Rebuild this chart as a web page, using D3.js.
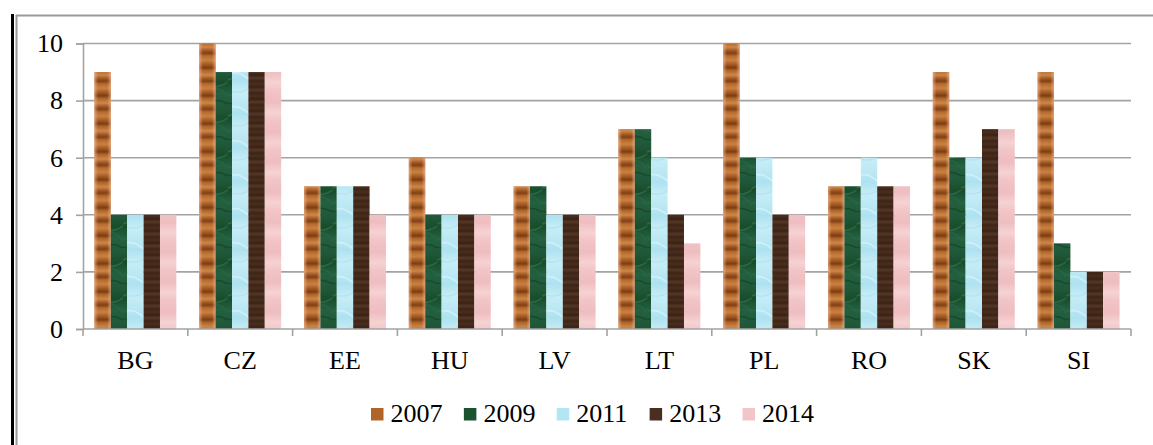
<!DOCTYPE html>
<html>
<head>
<meta charset="utf-8">
<script src="https://cdn.jsdelivr.net/npm/d3@7"></script>
<style>
  html, body { margin: 0; padding: 0; background: #ffffff; }
  svg { display: block; }
</style>
</head>
<body>
<svg id="chart" width="1153" height="445"></svg>
<script>
// ---- data ----
const categories = ["BG", "CZ", "EE", "HU", "LV", "LT", "PL", "RO", "SK", "SI"];
const years = ["2007", "2009", "2011", "2013", "2014"];
const v2007 = [9, 10, 5, 6, 5, 7, 10, 5, 9, 9];
const v2009 = [4, 9, 5, 4, 5, 7, 6, 5, 6, 3];
const v2011 = [4, 9, 5, 4, 4, 6, 6, 6, 6, 2];
const v2013 = [4, 9, 5, 4, 4, 4, 4, 5, 7, 2];
const v2014 = [4, 9, 4, 4, 4, 3, 4, 5, 7, 2];
const yTicks = [0, 2, 4, 6, 8, 10];

const series = [v2007, v2009, v2011, v2013, v2014];

// ---- layout ----
const svg = d3.select("#chart");
const W = 1153, H = 445;
const plot = { left: 83, right: 1131, top: 43.5, bottom: 329 };
const gridColor = "#a3a3a3";
const FONT = "'Liberation Serif', 'Times New Roman', serif";

// ---- textures ----
const defs = svg.append("defs");

function vGradient(id, stops) {
  const g = defs.append("linearGradient").attr("id", id)
    .attr("x1", 0).attr("x2", 0).attr("y1", 0).attr("y2", 1);
  stops.forEach(s => g.append("stop").attr("offset", s[0]).attr("stop-color", s[1]));
}
function bandPattern(id, h, gradId, extra) {
  const p = defs.append("pattern").attr("id", id)
    .attr("patternUnits", "userSpaceOnUse").attr("width", 40).attr("height", h);
  p.append("rect").attr("width", 40).attr("height", h).attr("fill", `url(#${gradId})`);
  (extra || []).forEach(e => p.append("path").attr("d", e.d).attr("fill", "none")
    .attr("stroke", e.c).attr("stroke-width", e.sw).attr("opacity", e.o));
}
vGradient("g2007", [[0, "#b66a2e"], [0.15, "#c98043"], [0.3, "#a55a22"], [0.42, "#7a3e14"],
  [0.52, "#b06428"], [0.68, "#cc8749"], [0.82, "#9c5220"], [0.9, "#7e4216"], [1, "#b66a2e"]]);
bandPattern("p2007", 28, "g2007");

vGradient("g2009", [[0, "#20593a"], [0.3, "#184d2c"], [0.6, "#236040"], [1, "#20593a"]]);
bandPattern("p2009", 36, "g2009", [
  { d: "M0 8 Q10 3 18 11 T40 10", c: "#3f7f58", sw: 1.4, o: 0.55 },
  { d: "M0 22 Q12 28 22 20 T40 25", c: "#336f4b", sw: 1.2, o: 0.5 },
  { d: "M0 31 Q10 34 20 30 T40 32", c: "#10391e", sw: 1.6, o: 0.5 }
]);

vGradient("g2011", [[0, "#bde9f4"], [0.35, "#aee2f0"], [0.7, "#c6edf6"], [1, "#bde9f4"]]);
bandPattern("p2011", 34, "g2011", [
  { d: "M0 6 Q10 2 18 9 T40 7", c: "#e0f6fb", sw: 1.8, o: 0.6 },
  { d: "M0 22 Q12 27 22 20 T40 23", c: "#99d8ea", sw: 1.2, o: 0.45 }
]);

vGradient("g2013", [[0, "#4a2e1e"], [0.25, "#3a2214"], [0.5, "#553828"], [0.75, "#3d2416"], [1, "#4a2e1e"]]);
bandPattern("p2013", 12, "g2013");

vGradient("g2014", [[0, "#f2c5c7"], [0.4, "#eebdc0"], [0.75, "#f6d2d3"], [1, "#f2c5c7"]]);
bandPattern("p2014", 30, "g2014");

const edge = defs.append("linearGradient").attr("id", "edge2007")
  .attr("x1", "0").attr("x2", "1").attr("y1", "0").attr("y2", "0");
[[0, 0.7], [0.22, 0], [0.78, 0], [1, 0.7]].forEach(s =>
  edge.append("stop").attr("offset", s[0]).attr("stop-color", "#eeb08a").attr("stop-opacity", s[1]));

const fills = ["url(#p2007)", "url(#p2009)", "url(#p2011)", "url(#p2013)", "url(#p2014)"];
const swatchFills = ["#b06428", "#1b5230", "#b2e6f2", "#4a2f20", "#f2c6c8"];

// ---- scales ----
const x0 = d3.scaleBand().domain(categories).range([plot.left, plot.right]).paddingInner(0).paddingOuter(0);
const bw = x0.bandwidth();
const x1 = d3.scaleBand().domain(years).range([bw * 0.109, bw * 0.891]).padding(0);
const y = d3.scaleLinear().domain([0, 10]).range([plot.bottom, plot.top]);

// ---- frame ----
svg.append("line").attr("x1", 12.5).attr("x2", 12.5).attr("y1", 14).attr("y2", H)
  .attr("stroke", "#000").attr("stroke-width", 3);
svg.append("line").attr("x1", 16.5).attr("x2", 16.5).attr("y1", 15).attr("y2", H)
  .attr("stroke", "#9a9a9a").attr("stroke-width", 2);
svg.append("line").attr("x1", 16).attr("x2", W).attr("y1", 15.5).attr("y2", 15.5)
  .attr("stroke", "#9a9a9a").attr("stroke-width", 2);

// ---- gridlines ----
svg.append("g").selectAll("line").data(yTicks.filter(d => d > 0)).join("line")
  .attr("x1", plot.left).attr("x2", plot.right)
  .attr("y1", d => y(d)).attr("y2", d => y(d))
  .attr("stroke", gridColor).attr("stroke-width", 1.6);

// ---- y axis ----
const yAxis = d3.axisLeft(y).tickValues(yTicks).tickSize(7).tickPadding(13).tickFormat(d3.format("d"));
const gy = svg.append("g").attr("transform", `translate(${plot.left},0)`).call(yAxis)
  .attr("font-family", null).attr("font-size", null);
gy.select(".domain").attr("stroke", gridColor).attr("stroke-width", 1.6);
gy.selectAll(".tick line").attr("stroke", gridColor).attr("stroke-width", 1.6);
gy.selectAll(".tick text").style("font-size", "26px").style("font-family", FONT).attr("fill", "#000");

// ---- bars ----
const groups = svg.append("g").selectAll("g").data(categories).join("g")
  .attr("transform", d => `translate(${x0(d)},0)`);
years.forEach((yr, si) => {
  groups.append("rect")
    .attr("x", x1(yr)).attr("width", x1.bandwidth())
    .attr("y", (d, i) => y(series[si][i]))
    .attr("height", (d, i) => y(0) - y(series[si][i]))
    .attr("fill", fills[si]);
  if (si === 0) {
    groups.append("rect")
      .attr("x", x1(yr)).attr("width", x1.bandwidth())
      .attr("y", (d, i) => y(series[si][i]))
      .attr("height", (d, i) => y(0) - y(series[si][i]))
      .attr("fill", "url(#edge2007)");
  }
});

// ---- x axis ----
const gx = svg.append("g");
gx.append("line").attr("x1", plot.left).attr("x2", plot.right)
  .attr("y1", plot.bottom).attr("y2", plot.bottom)
  .attr("stroke", gridColor).attr("stroke-width", 1.6);
const bounds = categories.map(c => x0(c)).concat([plot.right]);
gx.selectAll("line.t").data(bounds).join("line").attr("class", "t")
  .attr("x1", d => d).attr("x2", d => d)
  .attr("y1", plot.bottom).attr("y2", plot.bottom + 7)
  .attr("stroke", gridColor).attr("stroke-width", 1.6);
gx.selectAll("text").data(categories).join("text")
  .attr("x", d => x0(d) + bw / 2).attr("y", 369)
  .attr("text-anchor", "middle").style("font-size", "26px").style("font-family", FONT)
  .text(d => d);

// ---- legend ----
const legendX = d3.scalePoint().domain(years).range([371, 742.5]);
const lg = svg.append("g").selectAll("g").data(years).join("g")
  .attr("transform", d => `translate(${legendX(d)},0)`);
lg.append("rect").attr("x", 0).attr("y", 408).attr("width", 12.5).attr("height", 12.5)
  .attr("fill", (d, i) => swatchFills[i]);
lg.append("text").attr("x", 19.5).attr("y", 422).style("font-size", "26px").style("font-family", FONT)
  .text(d => d);
</script>
</body>
</html>
